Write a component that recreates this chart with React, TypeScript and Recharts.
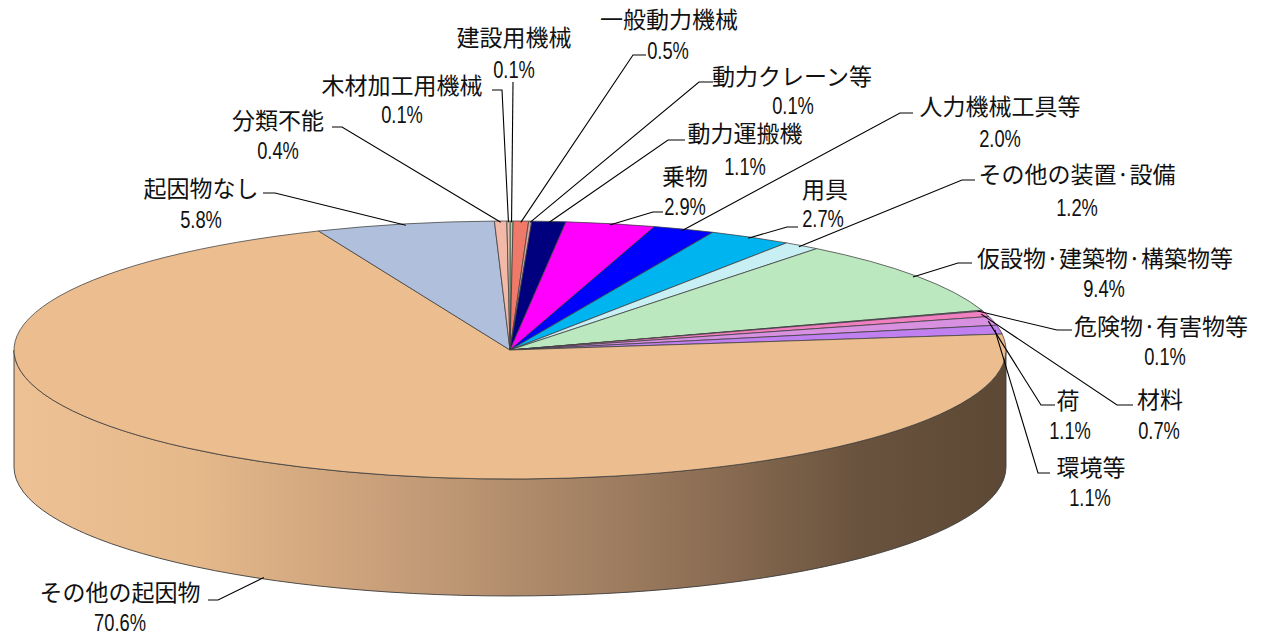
import React from 'react';
import { PieChart, Pie } from 'recharts';

// ---- data ----
const categories = [
  '建設用機械',
  '一般動力機械',
  '動力クレーン等',
  '動力運搬機',
  '乗物',
  '人力機械工具等',
  '用具',
  'その他の装置·設備',
  '仮設物·建築物·構築物等',
  '危険物·有害物等',
  '材料',
  '荷',
  '環境等',
  'その他の起因物',
  '起因物なし',
  '分類不能',
  '木材加工用機械',
];
const shares = [0.1, 0.5, 0.1, 1.1, 2.9, 2.0, 2.7, 1.2, 9.4, 0.1, 0.7, 1.1, 1.1, 70.6, 5.8, 0.4, 0.1];
const colors = [
  '#A8D8A0', '#F07A6A', '#D9A0A0', '#00007F', '#FF00FF', '#0000FF', '#00B4F0', '#C8F0F4',
  '#BCE8C0', '#8CB8E8', '#F080C0', '#D890E0', '#C080F0', '#ECBE8F', '#B0C0DC', '#F2B8A8', '#E8C0B0',
];

// ---- layout (label placement, not data) ----
// n: name centre, v: value centre, e: elbow of leader, h: end of short horizontal tick
const labelLayout = [
  { nx: 514, ny: 36, vx: 514, vy: 69, ex: 513, ey: 82, hx: 513 },
  { nx: 669, ny: 18, vx: 668, vy: 50, ex: 633, ey: 55, hx: 646 },
  { nx: 792, ny: 75, vx: 793, vy: 105, ex: 699, ey: 82, hx: 713 },
  { nx: 745, ny: 132, vx: 745, vy: 166, ex: 668, ey: 140, hx: 685 },
  { nx: 685, ny: 175, vx: 685, vy: 206, ex: 653, ey: 212, hx: 663 },
  { nx: 1000, ny: 105, vx: 1000, vy: 138, ex: 900, ey: 113, hx: 913 },
  { nx: 825, ny: 188, vx: 823, vy: 218, ex: 787, ey: 227, hx: 798 },
  { nx: 1077, ny: 173, vx: 1077, vy: 207, ex: 962, ey: 180, hx: 975 },
  { nx: 1105, ny: 257, vx: 1104, vy: 288, ex: 958, ey: 263, hx: 972 },
  { nx: 1161, ny: 325, vx: 1165, vy: 356, ex: 1057, ey: 330, hx: 1072 },
  { nx: 1160, ny: 398, vx: 1159, vy: 430, ex: 1117, ey: 405, hx: 1133 },
  { nx: 1068, ny: 399, vx: 1070, vy: 430, ex: 1041, ey: 405, hx: 1055 },
  { nx: 1091, ny: 466, vx: 1090, vy: 497, ex: 1038, ey: 473, hx: 1050 },
  { nx: 120, ny: 591, vx: 120, vy: 622, ex: 218, ey: 600, hx: 208 },
  { nx: 201, ny: 187, vx: 201, vy: 219, ex: 275, ey: 193, hx: 263 },
  { nx: 278, ny: 119, vx: 278, vy: 150, ex: 342, ey: 127, hx: 332 },
  { nx: 402, ny: 84, vx: 402, vy: 114, ex: 502, ey: 90, hx: 492 },
];

const data = categories.map((name, i) => ({ name, value: shares[i], fill: colors[i] }));

const CX = 510;
const CY = 350;
const RX = 496;
const TILT = 129 / 496;
const DEPTH = 117;
const NAME_FONT = "'Noto Sans CJK JP', sans-serif";
const VALUE_FONT = "'Liberation Sans', Arial, sans-serif";
const EDGE = '#3c3c3c';

const RAD = Math.PI / 180;
const pt = (cx: number, cy: number, rx: number, ry: number, a: number) => [
  cx + rx * Math.cos(a * RAD),
  cy - ry * Math.sin(a * RAD),
];

const renderSlice = (props: any) => {
  const { cx, cy, outerRadius, startAngle, endAngle, fill, index } = props;
  const rx = outerRadius;
  const ry = outerRadius * TILT;
  const hi = Math.max(startAngle, endAngle);
  const lo = Math.min(startAngle, endAngle);
  const walls: string[] = [];
  for (let k = -2; k <= 1; k++) {
    const a = Math.max(lo, -180 + 360 * k);
    const b = Math.min(hi, 360 * k);
    if (b > a + 1e-6) {
      const [x1, y1] = pt(cx, cy, rx, ry, b);
      const [x2, y2] = pt(cx, cy, rx, ry, a);
      walls.push(
        `M${x1},${y1} A${rx},${ry} 0 0 1 ${x2},${y2} L${x2},${y2 + DEPTH} A${rx},${ry} 0 0 0 ${x1},${y1 + DEPTH} Z`
      );
    }
  }
  const [sx, sy] = pt(cx, cy, rx, ry, hi);
  const [ex, ey] = pt(cx, cy, rx, ry, lo);
  const large = hi - lo > 180 ? 1 : 0;
  const top = `M${cx},${cy} L${sx},${sy} A${rx},${ry} 0 ${large} 1 ${ex},${ey} Z`;
  const gid = `side-grad-${index}`;
  return (
    <g>
      {walls.length > 0 && (
        <defs>
          <linearGradient id={gid} gradientUnits="userSpaceOnUse" x1={cx - rx} y1={0} x2={cx + rx} y2={0}>
            <stop offset="0" stopColor="#EDC194" />
            <stop offset="0.18" stopColor="#E6B98B" />
            <stop offset="0.45" stopColor="#BC9573" />
            <stop offset="0.7" stopColor="#8C6E54" />
            <stop offset="0.85" stopColor="#6A533E" />
            <stop offset="1" stopColor="#5C4834" />
          </linearGradient>
        </defs>
      )}
      {walls.map((d, i) => (
        <path key={i} d={d} fill={`url(#${gid})`} stroke={EDGE} strokeWidth={0.9} />
      ))}
      <path d={top} fill={fill} stroke={EDGE} strokeWidth={0.75} strokeLinejoin="round" />
    </g>
  );
};

const renderLabel = (props: any) => {
  const { index, midAngle, value, name, cx, cy, outerRadius } = props;
  const L = labelLayout[index];
  const rx = outerRadius * 0.99;
  const ry = outerRadius * TILT * 0.99;
  let [ax, ay] = pt(cx, cy, rx, ry, midAngle);
  if (Math.sin(midAngle * RAD) < 0) ay += DEPTH;
  return (
    <g key={`lbl-${index}`}>
      <polyline
        points={`${L.hx},${L.ey} ${L.ex},${L.ey} ${ax},${ay}`}
        fill="none"
        stroke="#000"
        strokeWidth={1.1}
      />
      <text x={L.nx} y={L.ny} textAnchor="middle" dominantBaseline="central" fontFamily={NAME_FONT} fontSize={23} fill="#111">
        {name}
      </text>
      <g transform={`translate(${L.vx},${L.vy + 8.5}) scale(0.78,1)`}>
        <text x={0} y={0} textAnchor="middle" fontFamily={VALUE_FONT} fontSize={23.5} fill="#111">
          {`${Number(value).toFixed(1)}%`}
        </text>
      </g>
    </g>
  );
};

export default function App() {
  return (
    <div style={{ position: 'absolute', left: 0, top: 0, width: 1264, height: 636, background: '#fff' }}>
      <PieChart width={1264} height={636} margin={{ top: 0, right: 0, bottom: 0, left: 0 }}>
        <Pie
          data={data}
          dataKey="value"
          nameKey="name"
          cx={CX}
          cy={CY}
          innerRadius={0}
          outerRadius={RX}
          startAngle={90}
          endAngle={-270}
          stroke="none"
          isAnimationActive={false}
          shape={renderSlice}
          label={renderLabel}
          labelLine={false}
        />
      </PieChart>
    </div>
  );
}
